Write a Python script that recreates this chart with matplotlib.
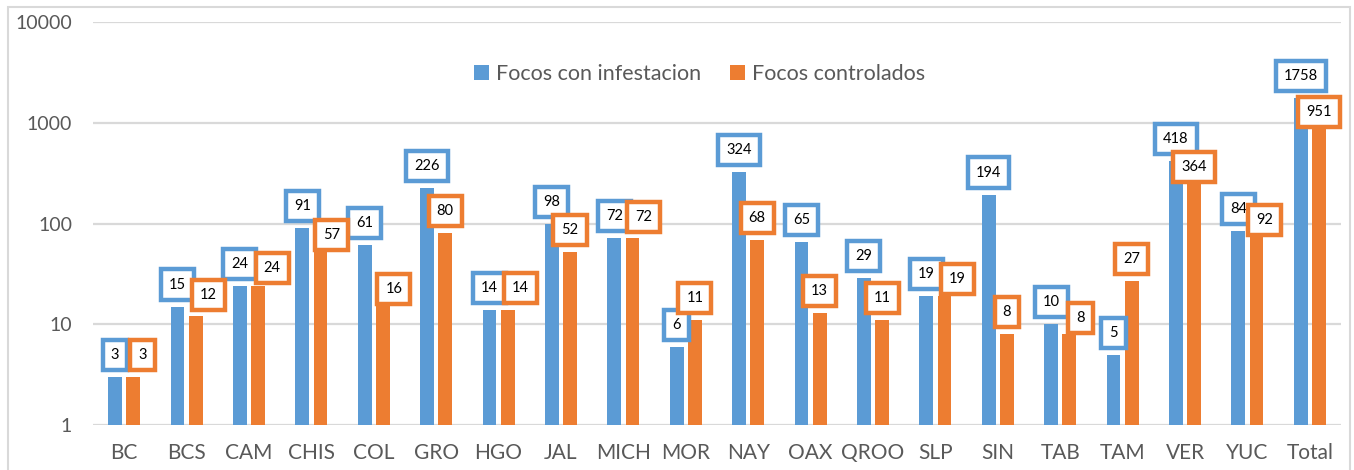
import matplotlib
matplotlib.use("Agg")
import matplotlib.pyplot as plt
import numpy as np
from matplotlib.patches import Rectangle, Patch

categories = ["BC", "BCS", "CAM", "CHIS", "COL", "GRO", "HGO", "JAL", "MICH", "MOR",
              "NAY", "OAX", "QROO", "SLP", "SIN", "TAB", "TAM", "VER", "YUC", "Total"]
infestacion = [3, 15, 24, 91, 61, 226, 14, 98, 72, 6,
               324, 65, 29, 19, 194, 10, 5, 418, 84, 1758]
controlados = [3, 12, 24, 57, 16, 80, 14, 52, 72, 11,
               68, 13, 11, 19, 8, 8, 27, 364, 92, 951]
series_names = ["Focos con infestacion", "Focos controlados"]

# label nudges for the orange labels (pixels: dx right, dy down relative to default)
orange_nudge = [(9, 0), (13, 1), (14, 4), (11, 9), (11, 7), (0, 0), (13, 0), (0, 0), (11, 1), (0, 0),
                (0, 0), (0, 0), (0, 0), (13, 5), (0, 0), (11, 6), (0, 0), (0, 22), (8, 15), (0, 9)]

BLUE = "#5B9BD5"
ORANGE = "#ED7D31"
GRID = "#D9D9D9"
TXT = "#595959"

plt.rcParams['font.family'] = ['Lato', 'DejaVu Sans']

W, H = 1354, 470
fig = plt.figure(figsize=(W / 100, H / 100), dpi=100)
ax = fig.add_axes([93 / W, 1 - 425 / H, (1341 - 93) / W, (425 - 22) / H])

x = np.arange(len(categories))
bw = 0.22
off = 0.145
ax.bar(x - off, infestacion, bw, color=BLUE, zorder=2)
ax.bar(x + off, controlados, bw, color=ORANGE, zorder=2)

ax.set_yscale('log')
ax.set_ylim(1, 10000)
ax.set_xlim(-0.5, len(categories) - 0.5)
ax.set_yticks([1, 10, 100, 1000, 10000])
ax.set_yticklabels(["1", "10", "100", "1000", "10000"])
ax.yaxis.set_minor_locator(matplotlib.ticker.NullLocator())
ax.set_xticks(x)
ax.set_xticklabels(categories)
ax.tick_params(axis='both', length=0, colors=TXT)
ax.tick_params(axis='y', pad=15, labelsize=14)
ax.tick_params(axis='x', pad=13, labelsize=15)
for s in ax.spines.values():
    s.set_visible(False)
ax.grid(axis='y', color=GRID, linewidth=1.6, zorder=0)
ax.set_axisbelow(True)

px = 0.72  # points per pixel at 100 dpi
default_up = 22
box_kw = dict(boxstyle='square,pad=0.55', fc='white', lw=3.2)
for i in range(len(categories)):
    ax.annotate(str(infestacion[i]), (x[i] - off, infestacion[i]),
                xytext=(0, default_up * px), textcoords='offset points',
                ha='center', va='center', fontsize=10.5, color='black', zorder=5,
                bbox=dict(ec=BLUE, **box_kw))
for i in range(len(categories)):
    dx, dy = orange_nudge[i]
    ax.annotate(str(controlados[i]), (x[i] + off, controlados[i]),
                xytext=(dx * px, (default_up - dy) * px), textcoords='offset points',
                ha='center', va='center', fontsize=10.5, color='black', zorder=6,
                bbox=dict(ec=ORANGE, **box_kw))

handles = [Patch(facecolor=BLUE, edgecolor='none'), Patch(facecolor=ORANGE, edgecolor='none')]
leg = ax.legend(handles, series_names, loc='center', bbox_to_anchor=(0.486, 0.871),
                ncol=2, frameon=False, fontsize=15.5, handlelength=0.7, handleheight=0.7,
                handletextpad=0.35, columnspacing=1.3)
for t in leg.get_texts():
    t.set_color(TXT)

fig.patches.append(Rectangle((8 / W, -0.05), (1350 - 8) / W, 1 - 7 / H + 0.05,
                             transform=fig.transFigure, fill=False, ec=GRID, lw=1.5))

fig.savefig("out.png", dpi=100)
